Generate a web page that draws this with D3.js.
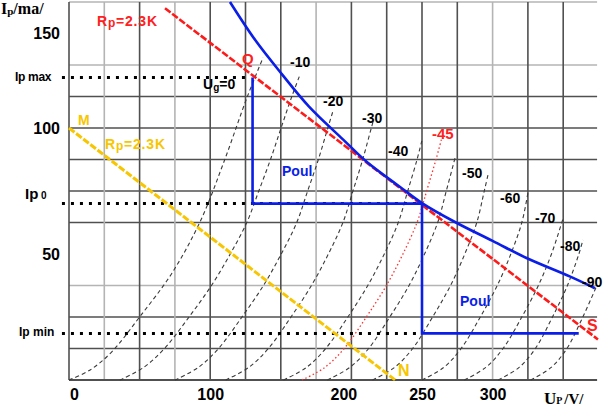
<!DOCTYPE html>
<html><head><meta charset="utf-8">
<script src="https://cdn.jsdelivr.net/npm/d3@7"></script>
<style>body{margin:0;background:#fff}svg{display:block}</style>
</head><body>
<svg id="c" width="611" height="408"></svg>
<script>
// ---------- data (U in V, I in mA) ----------
const xTicks = [0, 100, 200, 250, 300];
const yTickLabels = ["50", "100", "150"];
const yTickValues = [50, 100, 137.5];
const xGrid = [0, 25, 50, 75, 100, 125, 150, 175, 200, 225, 250, 275, 300, 325, 350];
const xGridLight = [25, 75, 175, 300];
const yGrid = [12.5, 25, 37.5, 62.5, 75, 87.5, 100, 112.5, 125, 150];
const yGridLight = [37.5, 125, 150];

const gridBias = ["Ug=0", "-10", "-20", "-30", "-40", "", "-50", "-60", "-70", "-80", "-90"];
const curveUg0   = [[0,0],[15,4],[30,11],[50,25],[73,42.5],[93,63],[110,87],[126,112],[137.5,128]];
const curveUg10  = [[36,0],[52.9,5],[67.6,12.5],[85,25],[100.9,37.5],[114.2,50],[125.9,62.5],[134.4,75],[142.7,87.5],[150.2,100],[157.8,112.5],[163.5,121]];
const curveUg20  = [[75,0],[91.6,5],[105.9,12.5],[122.5,25],[137.7,37.5],[150.3,50],[161.3,62.5],[169,75],[176.6,87.5],[183.3,100],[187.1,107]];
const curveUg30  = [[111,0],[127.3,5],[141.2,12.5],[157.2,25],[171.7,37.5],[183.7,50],[194,62.5],[201.1,75],[208,87.5],[214.1,100],[215.3,102.4]];
const curveUg40  = [[152,0],[168.2,5],[181.8,12.5],[197.5,25],[211.6,37.5],[223.3,50],[233.2,62.5],[239.9,75],[246.5,87.5],[250,95.2]];
const curveUgX   = [[183,0],[198.9,5],[212.2,12.5],[227.2,25],[240.8,37.5],[251.8,50],[261.1,62.5],[267.2,75],[273.4,88.1]];
const curveUg50  = [[215,0],[230.6,5],[243.4,12.5],[257.5,25],[270.2,37.5],[280.3,50],[288.8,62.5],[294.1,75],[296.7,81.3]];
const curveUg60  = [[250,0],[265.4,5],[277.7,12.5],[291.3,25],[303.3,37.5],[312.9,50],[320.7,62.5],[325,74.2]];
const curveUg70  = [[280,0],[295.2,5],[307.4,12.5],[320.7,25],[332.4,37.5],[341.7,50],[350,64.3]];
const curveUg80  = [[304,0],[318.8,5],[330.3,12.5],[342.4,25],[353,37.5],[361.1,50],[364,55.6]];
const curveUg90  = [[327,0],[341.5,5],[352.6,12.5],[363.9,25],[374,37.7]];
const curveUg45  = [[165,0],[181.2,5],[194.9,12.5],[210.6,25],[224.8,37.5],[236.5,50],[246.5,62.5],[250.7,70],[253.3,75],[259.9,87.5],[264.2,96.4]];

const maxDissipation = [[114,150],[132,134.8],[150.6,121.5],[170,108.5],[194,95.5],[211,86.5],[234,76.8],[250,70.2],[274,62.5],[300,55.2],[324,48.4],[355,41],[372.5,36.4]];
const loadLine = [[68,147.5],[374.6,16.1]];
const loadLineMN = [[0,100],[231,0]];
const IpMax = 120, Ip0 = 70, IpMin = 18.5;
const Umax = 130, U0 = 250, Umin = 361;

// ---------- scales ----------
const xs = d3.scaleLinear().domain([0, 375]).range([69, 598.5]);
const ys = d3.scaleLinear().domain([0, 150]).range([380, 2]);
const svg = d3.select("#c");
const SANS = "'Liberation Sans', Arial, sans-serif";
const SERIF = "'Liberation Serif', 'Times New Roman', serif";

// ---------- grid ----------
const g = svg.append("g");
g.selectAll("line.h").data(yGrid).enter().append("line")
  .attr("x1", xs(0)).attr("x2", xs(374)).attr("y1", d => ys(d)).attr("y2", d => ys(d))
  .attr("stroke", d => yGridLight.includes(d) ? "#b4b4b4" : "#505050").attr("stroke-width", 1.6);
g.selectAll("line.v").data(xGrid).enter().append("line")
  .attr("x1", d => xs(d)).attr("x2", d => xs(d)).attr("y1", ys(150)).attr("y2", ys(0))
  .attr("stroke", d => xGridLight.includes(d) ? "#b4b4b4" : "#505050").attr("stroke-width", 1.6);
g.append("line").attr("x1", xs(0)).attr("x2", xs(374)).attr("y1", ys(0)).attr("y2", ys(0))
  .attr("stroke", "#505050").attr("stroke-width", 1.8);

// ---------- axes ----------
const xAxis = svg.append("g").attr("transform", `translate(0,${ys(0)})`)
  .call(d3.axisBottom(xs).tickValues(xTicks).tickSize(0).tickPadding(9));
const yAxis = svg.append("g").attr("transform", `translate(${xs(0)},0)`)
  .call(d3.axisLeft(ys).tickValues(yTickValues).tickFormat((d, i) => yTickLabels[i]).tickSize(0).tickPadding(9));
[xAxis, yAxis].forEach(a => {
  a.select(".domain").remove();
  a.selectAll("text").attr("font-family", SANS).attr("font-weight", "bold").attr("font-size", 16).attr("fill", "#000");
});
xAxis.selectAll("text").filter(d => d === 0).attr("dx", 5);
xAxis.selectAll("text").filter(d => d === 200).attr("dx", -8);

// ---------- curves ----------
const line = d3.line().x(d => xs(d[0])).y(d => ys(d[1]));
const smooth = d3.line().x(d => xs(d[0])).y(d => ys(d[1])).curve(d3.curveCatmullRom);
const biasCurves = [curveUg0, curveUg10, curveUg20, curveUg30, curveUg40, curveUgX, curveUg50, curveUg60, curveUg70, curveUg80, curveUg90];
svg.append("g").selectAll("path").data(biasCurves).enter().append("path")
  .attr("d", smooth).attr("fill", "none").attr("stroke", "#3a3a3a").attr("stroke-width", 1.1)
  .attr("stroke-dasharray", "4,3");
svg.append("path").attr("d", smooth(curveUg45)).attr("fill", "none").attr("stroke", "#ff3030")
  .attr("stroke-width", 1.3).attr("stroke-dasharray", "1.5,2.5");

// dotted level lines
const dots = [[IpMax, Umax - 4], [Ip0, U0], [IpMin, U0]];
svg.append("g").selectAll("line").data(dots).enter().append("line")
  .attr("x1", xs(-5)).attr("x2", d => xs(d[1])).attr("y1", d => ys(d[0])).attr("y2", d => ys(d[0]))
  .attr("stroke", "#000").attr("stroke-width", 3).attr("stroke-dasharray", "3,6");

// yellow M-N line
svg.append("path").attr("d", line(loadLineMN)).attr("stroke", "#f7c600").attr("stroke-width", 3)
  .attr("stroke-dasharray", "7,2").attr("fill", "none");
// red load line
svg.append("path").attr("d", line(loadLine)).attr("stroke", "#ff1a1a").attr("stroke-width", 2.6)
  .attr("stroke-dasharray", "7,2").attr("fill", "none");
// blue dissipation curve
svg.append("path").attr("d", smooth(maxDissipation)).attr("stroke", "#0a1ee8").attr("stroke-width", 2.6).attr("fill", "none");
// blue triangles
svg.append("path").attr("d", line([[Umax, IpMax], [Umax, Ip0], [U0, Ip0]])).attr("stroke", "#0a1ee8").attr("stroke-width", 2.6).attr("fill", "none");
svg.append("path").attr("d", line([[U0, Ip0], [U0, IpMin], [Umin, IpMin]])).attr("stroke", "#0a1ee8").attr("stroke-width", 2.6).attr("fill", "none");

// ---------- labels ----------
function label(x, y, parts, opt) {
  const t = svg.append("text").attr("x", x).attr("y", y)
    .attr("font-family", opt.font || SANS).attr("font-weight", "bold")
    .attr("font-size", opt.size).attr("fill", opt.color || "#000");
  if (opt.ls) t.attr("letter-spacing", opt.ls);
  parts.forEach(p => {
    const s = t.append("tspan").text(p[0]);
    if (p[1]) s.attr("font-size", p[1]);
    if (p[2]) s.attr("dy", p[2]);
  });
  return t;
}
// axis titles
label(1, 14, [["I"], ["p", 11, 1], ["/ma/", null, -1]], {font: SERIF, size: 16});
label(544, 404, [["U"], ["P ", 10, 0], ["/V/", 15]], {font: SERIF, size: 17});
// level labels
label(15, 81, [["Ip max", 12]], {size: 12, ls: -0.3});
label(25, 199, [["Ip", 15], [" 0", 10]], {size: 15});
label(19, 336, [["Ip min", 12]], {size: 12});
// bias labels
const biasLabelPos = [[203, 89], [290, 67], [323, 106], [362, 123], [388, 156], null, [462, 178], [500, 203], [535, 223], [560, 251], [582, 287]];
gridBias.forEach((t, i) => {
  if (!t) return;
  const p = biasLabelPos[i];
  if (i === 0) label(p[0], p[1], [["U"], ["g", 10, 2], ["=0", null, -2]], {size: 14});
  else label(p[0], p[1], [[t]], {size: 14});
});
label(432, 139, [["-45"]], {size: 15, color: "#ff2020"});
label(242, 64, [["Q"]], {size: 15, color: "#ff2020"});
label(97, 26, [["R"], ["p", 12, 1], ["=2.3K", null, -1]], {size: 14, color: "#ff2020", ls: 0.8});
label(587, 331, [["S"]], {size: 16, color: "#ff2020"});
label(105, 149, [["R"], ["p", 12, 1], ["=2.3K", null, -1]], {size: 14, color: "#f7c600", ls: 0.8});
label(78, 125, [["M"]], {size: 14, color: "#f7c600"});
label(398, 376, [["N"]], {size: 16, color: "#f7c600"});
label(282, 176, [["Poul"]], {size: 14, color: "#0a1ee8"});
label(460, 306, [["Poul"]], {size: 14, color: "#0a1ee8"});
</script>
</body></html>
